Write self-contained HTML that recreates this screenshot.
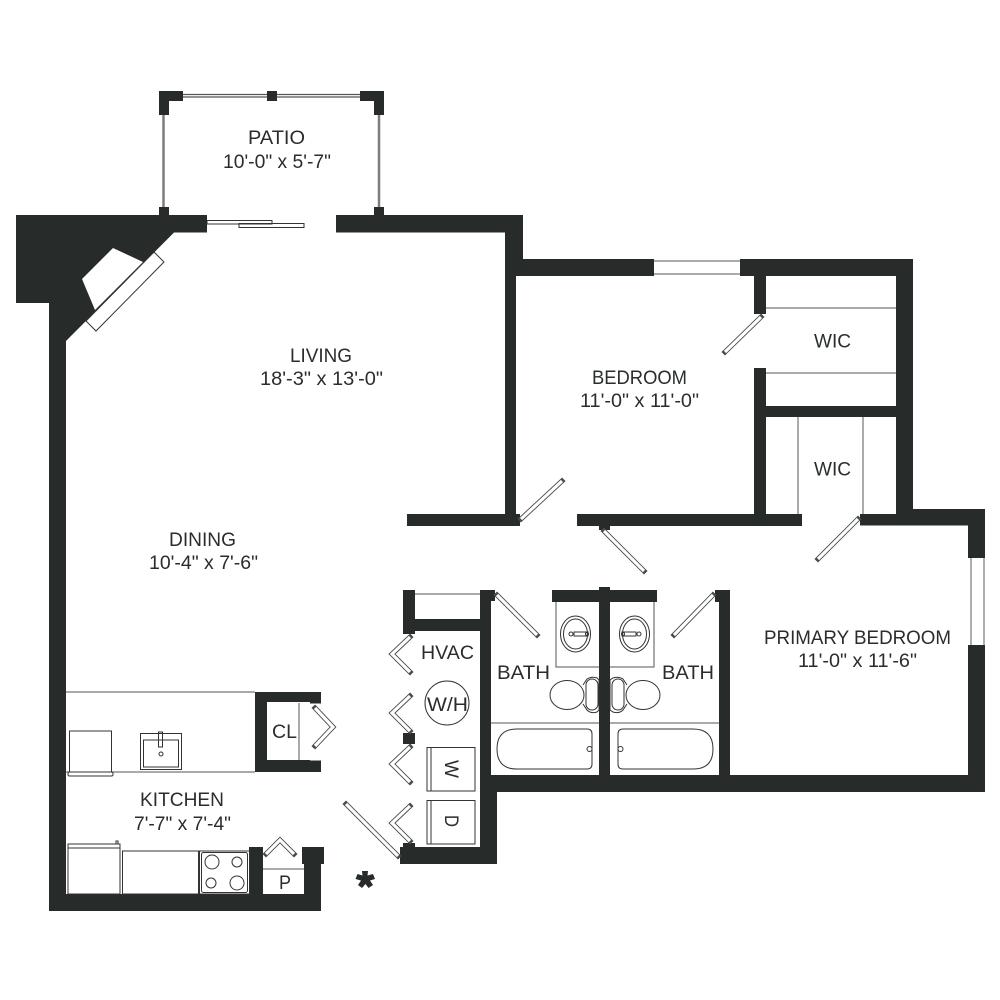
<!DOCTYPE html>
<html><head><meta charset="utf-8"><style>
html,body{margin:0;padding:0;background:#fff}
svg{display:block}
text{font-family:"Liberation Sans",sans-serif;font-size:19px;fill:#2a2d2d}
.w{fill:#272b2a}
.d{fill:none;stroke:#484b4b;stroke-width:5;stroke-linejoin:miter;stroke-linecap:square}
.di{fill:none;stroke:#fff;stroke-width:3.2;stroke-linejoin:miter}
.l{fill:none;stroke:#555;stroke-width:1}
.t{fill:none;stroke:#333;stroke-width:1}
.g{fill:none;stroke:#777;stroke-width:1.2}
</style></head><body>
<svg width="1000" height="1000" viewBox="0 0 1000 1000" xmlns="http://www.w3.org/2000/svg">
<rect width="1000" height="1000" fill="#fff"/>
<defs>
<path id="a1" d="M521 519L562 481"/>
<path id="a2" d="M604 531L644 571"/>
<path id="a3" d="M858 519L818 559"/>
<path id="a4" d="M761 317L725 352"/>
<path id="a5" d="M497 595L537 635"/>
<path id="a6" d="M713 595L674 635"/>
<path id="a7" d="M410 637L392 654L410 672"/>
<path id="a8" d="M410 696L392 713L410 731"/>
<path id="a9" d="M410 747L392 764L410 782"/>
<path id="a10" d="M410 806L392 823L410 841"/>
<path id="a11" d="M346 804L398 856"/>
<path id="a12" d="M315 708L333 727L315 746"/>
<path id="a13" d="M266 854L280 840L294 854"/>
</defs>

<!-- patio rails -->
<path d="M183 94.500H360M183 97H360" fill="none" stroke="#555" stroke-width="1.200"/>
<path d="M163.500 115V207M379 115V207" fill="none" stroke="#7d7d7d" stroke-width="2.500"/>
<path class="t" d="M207 220.500H272V224H207ZM239 223.500H304V227.500H239Z" fill="none"/>
<!-- windows -->
<path class="g" d="M654 261H740M654 274H740M971 558V645M984 558V645M415 594H480"/>

<!-- walls -->
<path class="w" d="M16 215H207V232.500H174L66 341V894H321V911H49V303H16Z"/>
<path class="w" d="M336 215H523V259H654V276H516V516H505V232.500H336Z"/>
<rect class="w" x="407" y="514" width="113" height="12"/>
<rect class="w" x="577" y="514" width="225" height="12"/>
<rect class="w" x="599" y="526" width="11" height="4"/>
<path class="w" d="M740 259H913V509H985V558H968V525.500H860V514H896V276H740Z"/>
<rect class="w" x="754" y="276" width="12" height="38"/>
<rect class="w" x="754" y="368" width="12" height="150"/>
<rect class="w" x="766" y="406" width="130" height="11"/>
<path class="w" d="M968 645H985V792H497V864H400V847H403V843H415V847H480V631H415V634H403V590H415V619H480V590H495V601H491V775H968Z"/>
<rect class="w" x="552" y="590" width="105" height="12"/>
<rect class="w" x="599" y="587" width="11" height="188"/>
<path class="w" d="M715 590H730V775H719V602H715Z"/>
<rect class="w" x="403" y="733" width="12" height="11"/>
<path class="w" d="M255 692H321V703.500H310V702H267V760H310V760.500H321V772H255Z"/>
<path class="w" d="M249 847H263V894H249ZM302 847H324V864H321V894H304V864H302Z"/>
<!-- corner opening -->
<path d="M113 248L82 279L95 310L143 262Z" fill="#fff"/>
<path d="M154 252L164 262L96 331L86 321Z" fill="#fff" stroke="#333" stroke-width="1"/>
<!-- patio posts -->
<path class="w" d="M159 91H183V101H169V115H159ZM360 91H384V115H374V101H360ZM267 91H277V101H267ZM159 207H169V215H159ZM374 207H384V215H374Z"/>

<!-- doors -->
<g class="d"><use href="#a1"/><use href="#a2"/><use href="#a3"/><use href="#a4"/><use href="#a5"/><use href="#a6"/><use href="#a7"/><use href="#a8"/><use href="#a9"/><use href="#a10"/><use href="#a11"/><use href="#a12"/><use href="#a13"/></g>
<g class="di"><use href="#a1"/><use href="#a2"/><use href="#a3"/><use href="#a4"/><use href="#a5"/><use href="#a6"/><use href="#a7"/><use href="#a8"/><use href="#a9"/><use href="#a10"/><use href="#a11"/><use href="#a12"/><use href="#a13"/></g>

<!-- thin lines -->
<path class="l" d="M766 308H896M766 373H896M798 417V514M863 417V514"/>
<path class="l" d="M66 692H255M66 772H255M299 703V760M263 869H304"/>
<path class="l" d="M491 723H599M610 723H719"/>
<path class="l" d="M556 602V667H599M654 602V667H610"/>

<!-- tubs -->
<path class="t" d="M517 729H587Q592 729 592 734V764Q592 769 587 769H517Q497 769 497 749Q497 729 517 729Z"/>
<path class="t" d="M693 729H623Q618 729 618 734V764Q618 769 623 769H693Q713 769 713 749Q713 729 693 729Z"/>
<circle class="t" cx="589.500" cy="749" r="2.500"/><circle class="t" cx="620.500" cy="749" r="2.500"/>
<!-- sinks -->
<g class="t">
<ellipse cx="575.500" cy="634" rx="15" ry="18"/><ellipse cx="575.500" cy="634" rx="12" ry="15"/>
<rect x="574" y="632" width="14" height="4"/><circle cx="571" cy="634" r="2"/><circle cx="587" cy="634" r="1.500"/>
<ellipse cx="634.500" cy="634" rx="15" ry="18"/><ellipse cx="634.500" cy="634" rx="12" ry="15"/>
<rect x="622" y="632" width="14" height="4"/><circle cx="639" cy="634" r="2"/><circle cx="623" cy="634" r="1.500"/>
</g>
<!-- toilets -->
<g class="t">
<ellipse cx="567" cy="695" rx="17" ry="14.500"/>
<path d="M583 685L587 679Q592 676 597 678L599 680V710L597 712Q591 714 587 710L583 704"/>
<rect x="586" y="679" width="12" height="31" rx="6"/>
<ellipse cx="643" cy="695" rx="17" ry="14.500"/>
<path d="M627 685L623 679Q618 676 613 678L610 680V710L613 712Q619 714 623 710L627 704"/>
<rect x="612" y="679" width="12" height="31" rx="6"/>
</g>
<!-- appliances -->
<g class="t">
<circle cx="447" cy="703" r="22"/>
<rect x="427" y="747.500" width="48" height="43.500"/><path d="M431 747.500V791"/>
<rect x="427" y="800.500" width="48" height="43.500"/><path d="M431 800.500V844"/>
<rect x="69.500" y="731" width="42" height="41"/>
<rect x="68" y="772" width="45" height="4" rx="1.500"/>
<rect x="140.500" y="733.500" width="41" height="36"/>
<rect x="143.500" y="740" width="35" height="27"/>
<rect x="158.500" y="732" width="4" height="15"/>
<circle cx="161" cy="754" r="2"/>
<rect x="68" y="844" width="52" height="50"/><path d="M68 848H120"/><rect x="116" y="841" width="2" height="3"/>
<rect x="122.500" y="851" width="76" height="43"/>
<rect x="199.500" y="851" width="50" height="43"/>
<rect x="201.500" y="852.500" width="46" height="40" rx="2"/>
<circle cx="212" cy="862" r="7"/><circle cx="237" cy="862" r="5"/><circle cx="211" cy="883" r="5"/><circle cx="237" cy="883" r="7"/>
</g>
<!-- asterisk -->
<path class="w" d="M362 871H368L367.500 875.500L373 874L375 879L370 880.500L373 885L368.500 888L365.500 884L362 888L358 885L361 880.500L355.500 879L357.500 874L362.500 875.500Z"/>

<!-- labels -->
<text x="248" y="144" textLength="57" lengthAdjust="spacingAndGlyphs">PATIO</text>
<text x="223" y="168" textLength="108" lengthAdjust="spacingAndGlyphs">10'-0" x 5'-7"</text>
<text x="290" y="362" textLength="62" lengthAdjust="spacingAndGlyphs">LIVING</text>
<text x="260" y="385" textLength="123" lengthAdjust="spacingAndGlyphs">18'-3" x 13'-0"</text>
<text x="592" y="384" textLength="95" lengthAdjust="spacingAndGlyphs">BEDROOM</text>
<text x="580" y="407" textLength="119" lengthAdjust="spacingAndGlyphs">11'-0" x 11'-0"</text>
<text x="814" y="347.500" textLength="37" lengthAdjust="spacingAndGlyphs">WIC</text>
<text x="814" y="475.500" textLength="37" lengthAdjust="spacingAndGlyphs">WIC</text>
<text x="169" y="546" textLength="67" lengthAdjust="spacingAndGlyphs">DINING</text>
<text x="149" y="569" textLength="109" lengthAdjust="spacingAndGlyphs">10'-4" x 7'-6"</text>
<text x="764" y="644" textLength="187" lengthAdjust="spacingAndGlyphs">PRIMARY BEDROOM</text>
<text x="798" y="667" textLength="119" lengthAdjust="spacingAndGlyphs">11'-0" x 11'-6"</text>
<text x="421" y="659" textLength="53" lengthAdjust="spacingAndGlyphs">HVAC</text>
<text x="497" y="679" textLength="53" lengthAdjust="spacingAndGlyphs">BATH</text>
<text x="662" y="679" textLength="52" lengthAdjust="spacingAndGlyphs">BATH</text>
<text x="427" y="711" textLength="41" lengthAdjust="spacingAndGlyphs">W/H</text>
<text x="272" y="738" textLength="25" lengthAdjust="spacingAndGlyphs">CL</text>
<text x="140" y="806" textLength="84" lengthAdjust="spacingAndGlyphs">KITCHEN</text>
<text x="134" y="830" textLength="97" lengthAdjust="spacingAndGlyphs">7'-7" x 7'-4"</text>
<text x="279" y="889" textLength="12" lengthAdjust="spacingAndGlyphs">P</text>
<text transform="translate(445 760) rotate(90)" textLength="18" lengthAdjust="spacingAndGlyphs">W</text>
<text transform="translate(445 815) rotate(90)" textLength="12" lengthAdjust="spacingAndGlyphs">D</text>
</svg>
</body></html>
